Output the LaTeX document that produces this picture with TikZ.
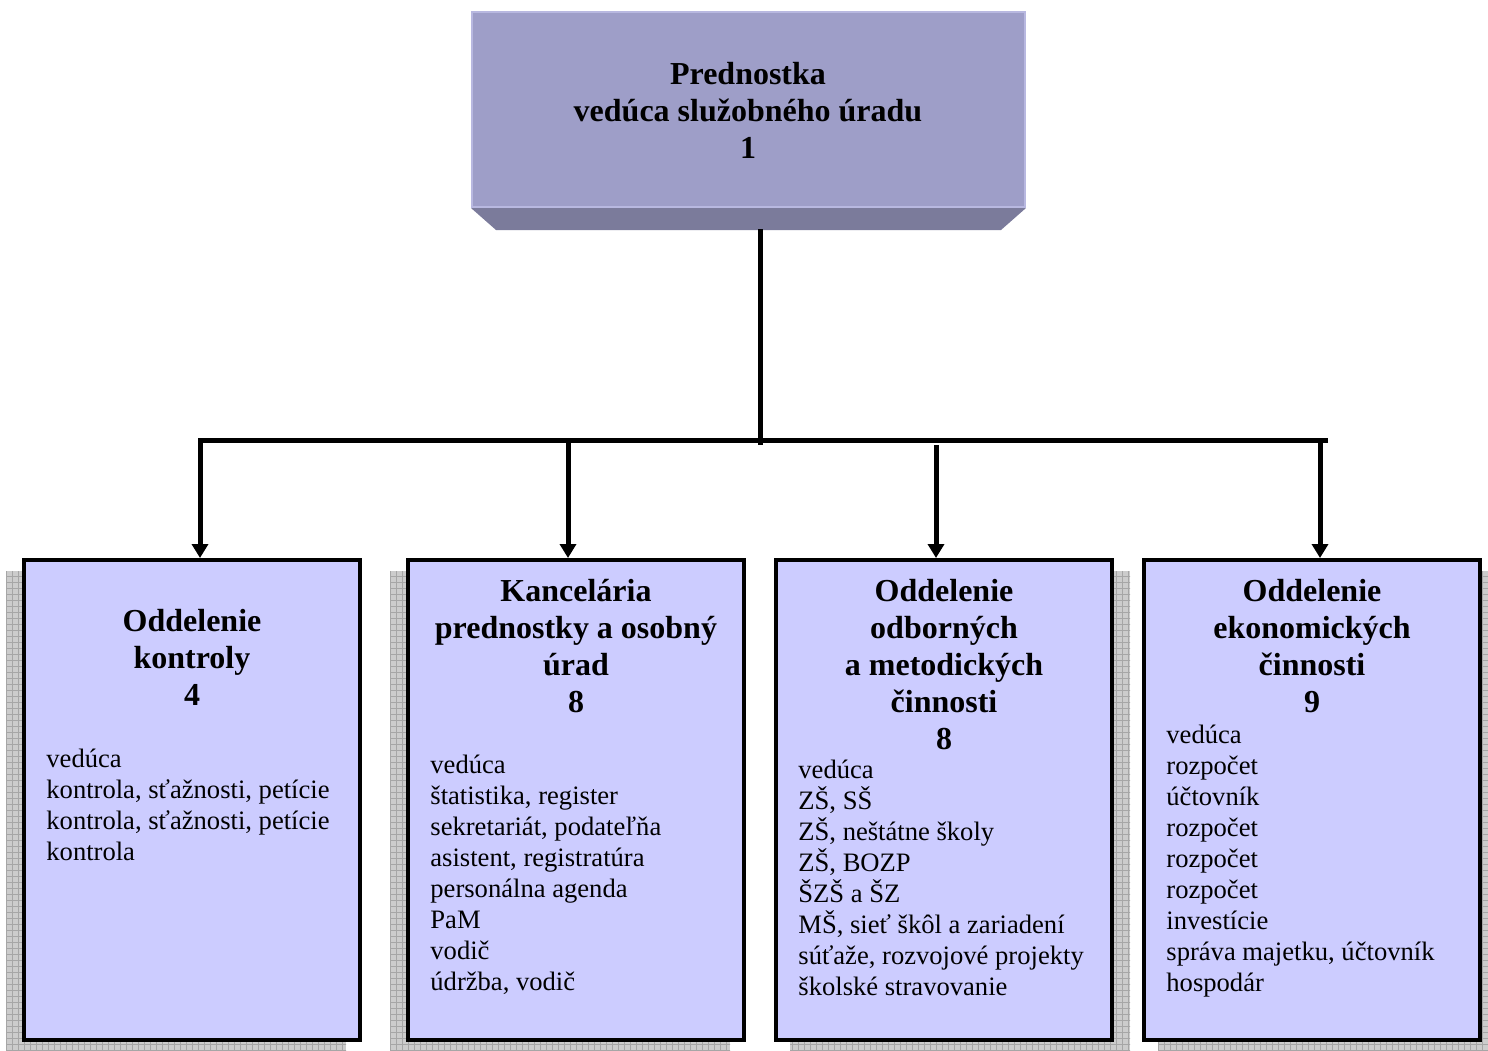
\documentclass[tikz,border=0pt]{standalone}
\usepackage{fontspec}
\setmainfont{Liberation Serif}
\usetikzlibrary{arrows.meta,patterns,backgrounds}
\definecolor{headfill}{HTML}{9E9EC8}
\definecolor{headbevel}{HTML}{7B7B9B}
\definecolor{headedge}{HTML}{B8B8E0}
\definecolor{unitfill}{HTML}{CCCCFF}
\tikzset{
  head/.style={fill=headfill, draw=headedge, line width=1pt, minimum width=276.5pt, minimum height=97.5pt, inner sep=0pt},
  unit/.style={draw, line width=2pt, fill=unitfill, minimum width=168pt, minimum height=240pt, inner sep=0pt},
  title/.style={anchor=north, align=center, inner sep=0pt, font=\bfseries\fontsize{16}{18.5}\selectfont},
  duties/.style={anchor=north west, align=left, inner sep=0pt, font=\fontsize{13.3}{15.5}\selectfont},
  dropshadow/.style={fill=gray!40, postaction={pattern=grid, pattern color=gray!70}},
  link/.style={line width=2.5pt},
  arrowlink/.style={line width=2.5pt, -{Triangle[width=8pt,length=7pt]}},
}
\begin{document}
\begin{tikzpicture}[x=0.5pt,y=-0.5pt]
  \useasboundingbox (0,0) rectangle (1488,1050);
  % head of the office
  \node[head] (B0) at (748.5,109.5) {};
  \fill[headbevel] (B0.south west) -- (B0.south east)
    -- ([shift={(-25,22)}]B0.south east) -- ([shift={(25,22)}]B0.south west) -- cycle;
  \node[title] (T0) at (748,62) {Prednostka\\vedúca služobného úradu\\1};
  % departments
  \node[unit] (B1) at (192,800) {};
  \node[unit] (B2) at (576,800) {};
  \node[unit] (B3) at (944,800) {};
  \node[unit] (B4) at (1312,800) {};
  \begin{scope}[on background layer]
    \fill[dropshadow] ([shift={(-16,13)}]B1.north west) rectangle ([shift={(-16,13)}]B1.south east);
    \fill[dropshadow] ([shift={(-16,13)}]B2.north west) rectangle ([shift={(-16,13)}]B2.south east);
    \fill[dropshadow] ([shift={(16,13)}]B3.north west) rectangle ([shift={(16,13)}]B3.south east);
    \fill[dropshadow] ([shift={(16,13)}]B4.north west) rectangle ([shift={(16,13)}]B4.south east);
  \end{scope}
  \node[title] (T1) at (192,609) {Oddelenie\\kontroly\\4};
  \node[duties] (D1) at (46,749) {vedúca\\kontrola, sťažnosti, petície\\kontrola, sťažnosti, petície\\kontrola};
  \node[title] (T2) at (576,579) {Kancelária\\prednostky a osobný\\úrad\\8};
  \node[duties] (D2) at (430,755) {vedúca\\štatistika, register\\sekretariát, podateľňa\\asistent, registratúra\\personálna agenda\\PaM\\vodič\\údržba, vodič};
  \node[title] (T3) at (944,579) {Oddelenie\\odborných\\a metodických\\činnosti\\8};
  \node[duties] (D3) at (798,760) {vedúca\\ZŠ, SŠ\\ZŠ, neštátne školy\\ZŠ, BOZP\\ŠZŠ a ŠZ\\MŠ, sieť škôl a zariadení\\súťaže, rozvojové projekty\\školské stravovanie};
  \node[title] (T4) at (1312,579) {Oddelenie\\ekonomických\\činnosti\\9};
  \node[duties] (D4) at (1166,725) {vedúca\\rozpočet\\účtovník\\rozpočet\\rozpočet\\rozpočet\\investície\\správa majetku, účtovník\\hospodár};
  % connectors
  \coordinate (top) at (760,229);
  \coordinate (J) at (760,445);
  \coordinate (L) at (200,440);
  \coordinate (R) at (1328,440);
  \coordinate (K2) at (568,440);
  \coordinate (K3) at (936,445);
  \coordinate (K4) at (1320,440);
  \draw[link] (top) -- (J);
  \draw[arrowlink] (R) -- (L) -- (L |- B1.north);
  \draw[arrowlink] (K2) -- (K2 |- B2.north);
  \draw[arrowlink] (K3) -- (K3 |- B3.north);
  \draw[arrowlink] (K4) -- (K4 |- B4.north);
\end{tikzpicture}
\end{document}
